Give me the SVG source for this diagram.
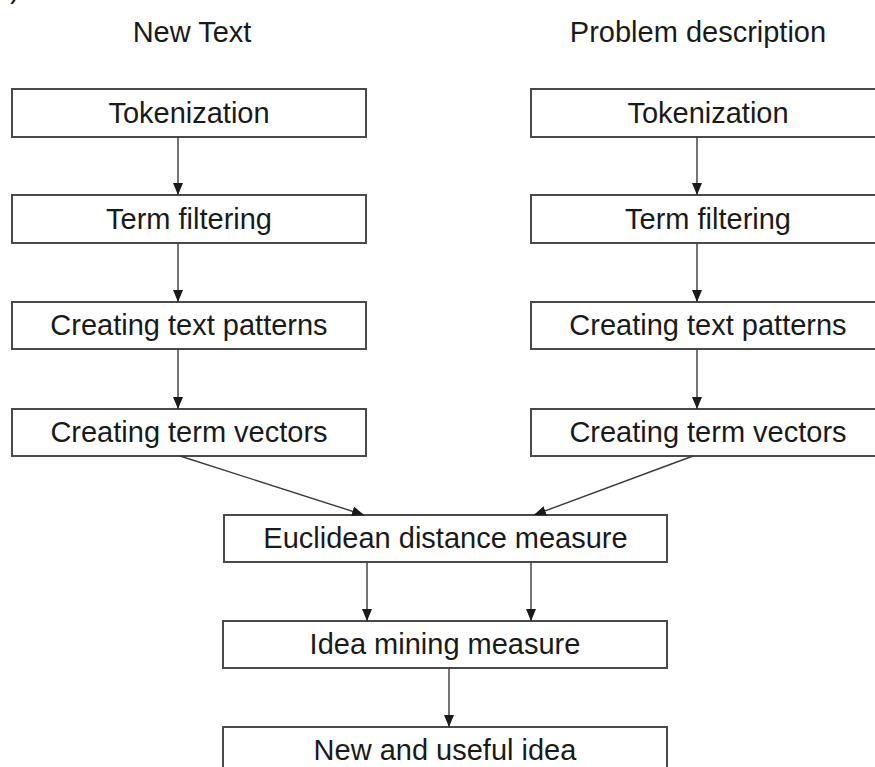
<svg xmlns="http://www.w3.org/2000/svg" width="875" height="767" viewBox="0 0 875 767">
  <style>
    .box { fill: #ffffff; stroke: #4a4a4a; stroke-width: 2; }
    .lbl { font-family: "Liberation Sans", Arial, sans-serif; font-size: 29px; fill: #1a1a1a; text-anchor: middle; }
    .edge { fill: none; stroke: #3a3a3a; stroke-width: 1.4; marker-end: url(#head); }
  </style>
  <defs>
    <marker id="head" viewBox="0 0 12 10" refX="12" refY="5" markerWidth="12" markerHeight="10" markerUnits="userSpaceOnUse" orient="auto">
      <path d="M0,0 L12,5 L0,10 Z" fill="#1a1a1a"/>
    </marker>
  </defs>
  <rect width="875" height="767" fill="#ffffff"/>

  <!-- panel mark, mostly above the top edge -->
  <text class="lbl" x="10" y="-2" style="text-anchor:start">)</text>

  <!-- column headings -->
  <text class="lbl" x="192" y="42">New Text</text>
  <text class="lbl" x="698" y="42">Problem description</text>

  <!-- left column -->
  <g id="l-token">
    <rect class="box" x="12" y="89" width="354" height="48"/>
    <text class="lbl" x="189" y="123">Tokenization</text>
  </g>
  <g id="l-filter">
    <rect class="box" x="12" y="195" width="354" height="48"/>
    <text class="lbl" x="189" y="229">Term filtering</text>
  </g>
  <g id="l-patterns">
    <rect class="box" x="12" y="302" width="354" height="47"/>
    <text class="lbl" x="189" y="335">Creating text patterns</text>
  </g>
  <g id="l-vectors">
    <rect class="box" x="12" y="409" width="354" height="47"/>
    <text class="lbl" x="189" y="442">Creating term vectors</text>
  </g>

  <!-- right column -->
  <g id="r-token">
    <rect class="box" x="531" y="89" width="354" height="48"/>
    <text class="lbl" x="708" y="123">Tokenization</text>
  </g>
  <g id="r-filter">
    <rect class="box" x="531" y="195" width="354" height="48"/>
    <text class="lbl" x="708" y="229">Term filtering</text>
  </g>
  <g id="r-patterns">
    <rect class="box" x="531" y="302" width="354" height="47"/>
    <text class="lbl" x="708" y="335">Creating text patterns</text>
  </g>
  <g id="r-vectors">
    <rect class="box" x="531" y="409" width="354" height="47"/>
    <text class="lbl" x="708" y="442">Creating term vectors</text>
  </g>

  <!-- merged stages -->
  <g id="euclid">
    <rect class="box" x="224" y="515" width="443" height="47"/>
    <text class="lbl" x="445.5" y="548">Euclidean distance measure</text>
  </g>
  <g id="idea-mining">
    <rect class="box" x="223" y="621" width="444" height="47"/>
    <text class="lbl" x="445" y="654">Idea mining measure</text>
  </g>
  <g id="new-idea">
    <rect class="box" x="223" y="727" width="444" height="60"/>
    <text class="lbl" x="445" y="760">New and useful idea</text>
  </g>

  <!-- connectors -->
  <g id="connectors">
    <line class="edge" x1="178" y1="137" x2="178" y2="195"/>
    <line class="edge" x1="178" y1="243" x2="178" y2="302"/>
    <line class="edge" x1="178" y1="349" x2="178" y2="409"/>
    <line class="edge" x1="697" y1="137" x2="697" y2="195"/>
    <line class="edge" x1="697" y1="243" x2="697" y2="302"/>
    <line class="edge" x1="697" y1="349" x2="697" y2="409"/>
    <line class="edge" x1="180" y1="456" x2="364" y2="515"/>
    <line class="edge" x1="693" y1="456" x2="534" y2="515"/>
    <line class="edge" x1="367" y1="562" x2="367" y2="621"/>
    <line class="edge" x1="531" y1="562" x2="531" y2="621"/>
    <line class="edge" x1="449" y1="668" x2="449" y2="727"/>
  </g>
</svg>
